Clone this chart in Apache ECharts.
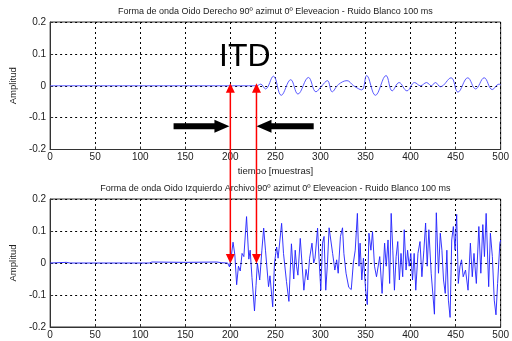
<!DOCTYPE html>
<html>
<head>
<meta charset="utf-8">
<script src="https://cdn.jsdelivr.net/npm/echarts@6/dist/echarts.min.js"></script>
<style>
html, body { margin: 0; padding: 0; background: #fff; }
#main { width: 512px; height: 341px; }
</style>
</head>
<body>
<div id="main"></div>
<script>
// titulos
const tituloDerecho = 'Forma de onda Oido Derecho 90º azimut 0º Eleveacion - Ruido Blanco 100 ms';
const tituloIzquierdo = 'Forma de onda Oido Izquierdo Archivo 90º azimut 0º Eleveacion - Ruido Blanco 100 ms';

// oido derecho: [muestra, amplitud]
const oidoDerecho = [
  [0, 0], [229, 0], [233.7, 0.005], [239, -0.01], [247.8, 0.03], [256.5, -0.03], [267, 0.019],
  [275, -0.026], [286.7, 0.026], [295, -0.019], [301, -0.002], [307.7, 0.016], [313, -0.019],
  [320, 0.004], [329.5, 0.016], [336.8, 0], [345.9, -0.013], [351.3, 0.032], [361, -0.03],
  [372.8, 0.032], [379.6, -0.016], [387.3, 0.01], [396, -0.016], [404.5, 0.01], [411, 0],
  [417.8, 0.01], [423, 0], [427.6, 0.01], [433, -0.003], [445, 0.025], [452.6, -0.02],
  [463.5, 0.025], [472.2, -0.01], [481.7, 0.025], [490.7, -0.012], [498, 0.005], [500, 0.003]
];

// oido izquierdo: [muestra, amplitud]
const oidoIzquierdo = [
  [0, 0], [2, 0.003], [18, 0.002], [22, 0], [110, 0], [113, 0.003], [150, 0.002], [185, 0.003],
  [190, 0.001], [197, 0], [199, -0.012], [201, 0.02], [203, 0.065], [205, 0.025], [207, -0.068],
  [209, -0.01], [211, -0.025], [213, 0.03], [215, 0.02], [218, 0.145], [220.5, 0.012], [222, 0.04],
  [224, -0.045], [226.8, -0.15], [228.5, -0.07], [230, 0.0], [232.6, -0.053], [235, 0.04],
  [237, 0.109], [239, 0.04], [242.4, -0.074], [244, -0.04], [247, -0.137], [249, 0.0],
  [251.4, 0.05], [253, 0.015], [256.9, 0.124], [259, 0.03], [262.3, -0.058], [265, -0.12],
  [267.8, 0.06], [270.4, -0.05], [272, 0.04], [273.5, -0.01], [275, -0.038], [277.6, 0.077],
  [279.5, 0.0], [281.6, -0.085], [284, -0.02], [286, -0.053], [288, 0.015], [290.6, 0.062],
  [292.5, 0.0], [294, 0.015], [296.8, 0.109], [298.5, 0.01], [300.4, -0.085], [302.3, 0.062],
  [304, 0.083], [305.9, -0.085], [307.8, 0.0], [309.6, 0.11], [311.4, 0.104], [313.5, 0.03],
  [316, -0.022], [318, 0.01], [319.7, -0.032], [322.2, 0.083], [324.5, 0.11], [326, 0.03],
  [328.4, -0.032], [331.4, -0.076], [334.2, -0.083], [336.5, 0.0], [338.6, 0.04], [341, 0.155],
  [342.8, -0.01], [344, 0.062], [345.9, -0.053], [347.7, 0.015], [350.2, -0.085], [352, -0.13],
  [353.8, 0.093], [356, 0.04], [357.8, 0.098], [360, -0.01], [362.2, -0.043], [365.8, 0.02],
  [368.4, -0.095], [371.2, 0.062], [373, -0.01], [375, 0.072], [376.8, -0.064], [378.5, 0.155],
  [380.3, 0.04], [382.1, -0.085], [384, 0.02], [385.8, 0.067], [387.6, -0.053], [389.4, 0.03],
  [391.3, -0.043], [393, 0.104], [395, -0.022], [396.7, 0.04], [398.5, -0.01], [400.3, 0.03],
  [402.2, -0.053], [404, 0.03], [405.8, -0.085], [408.2, 0.03], [410.5, 0.067], [412.6, -0.043],
  [414.8, 0.04], [416.7, 0.125], [418.5, -0.01], [420.3, 0.104], [422.9, -0.032], [425, -0.106],
  [426.5, -0.16], [428.6, 0.157], [431, -0.032], [433, 0.093], [434.8, 0.04], [436.6, -0.053],
  [438.5, -0.095], [440.3, 0.04], [442, -0.116], [443.9, -0.17], [445.7, 0.072], [447.5, 0.114],
  [449.4, 0.04], [451.2, 0.152], [453, -0.064], [454.8, -0.012], [456.6, 0.01], [458.4, -0.043],
  [461, -0.022], [463.8, -0.085], [466.4, 0.062], [468.5, -0.043], [470.4, 0.03], [473, -0.064],
  [475.8, 0.114], [478, -0.032], [480.2, 0.12], [482, 0.02], [483.9, 0.155], [486.7, -0.074],
  [488.6, 0.093], [490.8, 0.02], [492.9, -0.116], [494.8, -0.162], [496.6, -0.064], [499.1, 0.062],
  [500, 0.072]
];

// anotaciones ITD (muestras)
const itdMuestras = [200, 229];
const flechaNivel = -0.127;
const flechaIzq = [137, 199];   // desde, hasta (punta)
const flechaDer = [292.5, 229]; // desde, hasta (punta)
const itdTexto = { text: 'ITD', x: 216, y: 0.091 };

const fontFam = '"Liberation Sans", Arial, Helvetica, sans-serif';
const axisColor = '#333';
const fontColor = '#222';

let chart = echarts.init(document.getElementById('main'));

function xAxisCfg(grid, name) {
  return {
    gridIndex: grid,
    type: 'value',
    min: 0, max: 500, interval: 50,
    name: name,
    nameLocation: 'middle',
    nameGap: 17,
    nameTextStyle: { color: fontColor, fontSize: 9.5, fontFamily: fontFam },
    axisLine: { show: true, onZero: false, lineStyle: { color: axisColor, width: 1 } },
    axisTick: { show: true, inside: true, length: 3, lineStyle: { color: axisColor } },
    axisLabel: { color: fontColor, fontSize: 10, fontFamily: fontFam, margin: 3, showMaxLabel: true },
    splitLine: { show: true, lineStyle: { color: '#000', type: [2, 3], width: 1 } }
  };
}

function yAxisCfg(grid) {
  return {
    gridIndex: grid,
    type: 'value',
    min: -0.2, max: 0.2, interval: 0.1,
    name: 'Amplitud',
    nameLocation: 'middle',
    nameGap: 24,
    nameTextStyle: { color: fontColor, fontSize: 9.5, fontFamily: fontFam },
    axisLine: { show: true, lineStyle: { color: axisColor, width: 1 } },
    axisTick: { show: true, inside: true, length: 3, lineStyle: { color: axisColor } },
    axisLabel: { color: fontColor, fontSize: 10, fontFamily: fontFam, margin: 4 },
    splitLine: { show: true, lineStyle: { color: '#000', type: [2, 3], width: 1 } }
  };
}

let option = {
  backgroundColor: '#fff',
  animation: false,
  grid: [
    { left: 47.5, right: 5.5, top: 22, height: 127.5, show: true, borderColor: axisColor, borderWidth: 1, backgroundColor: '#fff' },
    { left: 47.5, right: 5.5, top: 199, height: 128, show: true, borderColor: axisColor, borderWidth: 1, backgroundColor: '#fff' }
  ],
  xAxis: [xAxisCfg(0, 'tiempo [muestras]'), xAxisCfg(1, '')],
  yAxis: [yAxisCfg(0), yAxisCfg(1)],
  series: [
    {
      type: 'line', xAxisIndex: 0, yAxisIndex: 0,
      data: oidoDerecho, smooth: 0.4, showSymbol: false,
      lineStyle: { color: '#4a4aff', width: 0.9 }
    },
    {
      type: 'line', xAxisIndex: 1, yAxisIndex: 1,
      data: oidoIzquierdo, smooth: false, showSymbol: false,
      lineStyle: { color: '#2020ff', width: 0.9 }
    }
  ]
};
chart.setOption(option);

// flechas y textos encima de los graficos
function notas() {
  let g = [];
  const px = (grid, x, y) => chart.convertToPixel({ gridIndex: grid }, [x, y]);

  // titulos centrados en el eje
  const a = px(0, 0, 0.2), b = px(0, 500, 0.2);
  const c = px(1, 0, 0.2);
  const cx = (a[0] + b[0]) / 2;
  g.push({ type: 'text', x: cx, y: a[1] - 10, z: 100,
    style: { text: tituloDerecho, fill: fontColor, font: '9px ' + fontFam, textAlign: 'center', textVerticalAlign: 'middle' } });
  g.push({ type: 'text', x: cx, y: c[1] - 10, z: 100,
    style: { text: tituloIzquierdo, fill: fontColor, font: '9px ' + fontFam, textAlign: 'center', textVerticalAlign: 'middle' } });

  // ITD
  const t = px(0, itdTexto.x, itdTexto.y);
  g.push({ type: 'text', x: t[0], y: t[1], z: 100,
    style: { text: itdTexto.text, fill: '#000', font: '32px ' + fontFam, textAlign: 'center', textVerticalAlign: 'middle' } });

  // flechas rojas dobles
  itdMuestras.forEach(function (s) {
    const p1 = px(0, s, 0), p2 = px(1, s, 0);
    g.push({ type: 'line', z: 100, shape: { x1: p1[0], y1: p1[1] + 6, x2: p2[0], y2: p2[1] - 6 },
      style: { stroke: '#ff0000', lineWidth: 1.5 } });
    g.push({ type: 'polygon', z: 100, shape: { points: [[p1[0], p1[1] - 2.5], [p1[0] - 4.5, p1[1] + 7], [p1[0] + 4.5, p1[1] + 7]] },
      style: { fill: '#ff0000' } });
    g.push({ type: 'polygon', z: 100, shape: { points: [[p2[0], p2[1] + 0.5], [p2[0] - 4.5, p2[1] - 9], [p2[0] + 4.5, p2[1] - 9]] },
      style: { fill: '#ff0000' } });
  });

  // flechas negras
  [flechaIzq, flechaDer].forEach(function (f) {
    const p0 = px(0, f[0], flechaNivel), p1 = px(0, f[1], flechaNivel);
    const d = p1[0] > p0[0] ? 1 : -1;
    const y = p0[1], hx = p1[0] - d * 15;
    g.push({ type: 'polygon', z: 100, shape: { points: [
      [p0[0], y - 3], [hx, y - 3], [hx, y - 6.5], [p1[0], y], [hx, y + 6.5], [hx, y + 3], [p0[0], y + 3]
    ] }, style: { fill: '#000' } });
  });

  chart.setOption({ graphic: g });
}
notas();

window.addEventListener('resize', function () {
  chart.resize();
  notas();
});
</script>
</body>
</html>
